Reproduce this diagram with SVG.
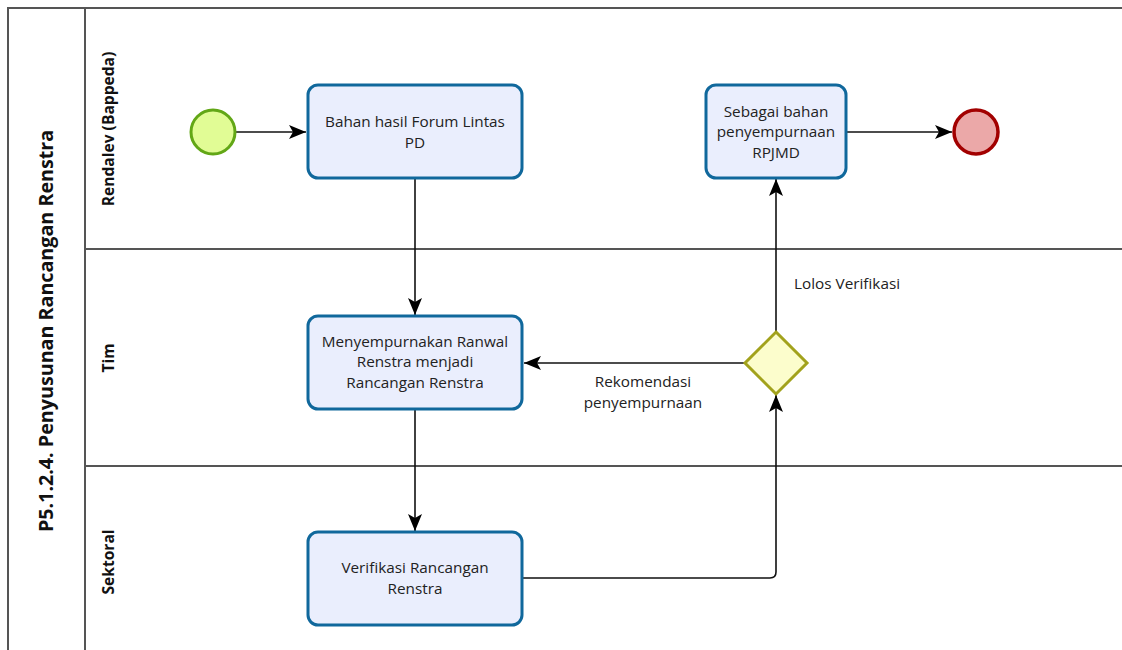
<svg xmlns="http://www.w3.org/2000/svg" width="1122" height="650" viewBox="0 0 1122 650">
<defs>
<style>
.lane{fill:none;stroke:#555;stroke-width:2}
.task{fill:#eaeefd;stroke:#10689c;stroke-width:3}
.t{font-family:"Open Sans","Liberation Sans",sans-serif;font-size:15.3px;fill:#222;text-anchor:middle}
.lbl{font-family:"Open Sans","Liberation Sans",sans-serif;font-size:15.3px;fill:#222}
.hd{font-family:"Open Sans","Liberation Sans",sans-serif;font-size:15.6px;font-weight:bold;fill:#111;text-anchor:middle}
.edge{fill:none;stroke:#111;stroke-width:1.6}
</style>
<marker id="arrB" viewBox="0 0 18 14" refX="17" refY="7" markerWidth="18" markerHeight="14" markerUnits="userSpaceOnUse" orient="auto"><path d="M0,0 L17,7 L0,14 L4,7 z" fill="#000"/></marker>
</defs>
<rect width="1122" height="650" fill="#fff"/>
<g id="pool">
<path class="lane" d="M1122,8 H8 V652"/>
<line class="lane" x1="85" y1="8" x2="85" y2="652"/>
<line class="lane" x1="85" y1="249" x2="1122" y2="249"/>
<line class="lane" x1="85" y1="466" x2="1122" y2="466"/>
<text transform="translate(53,331) rotate(-90)" font-family="'Open Sans','Liberation Sans',sans-serif" font-size="19.7" font-weight="bold" fill="#111" text-anchor="middle">P5.1.2.4. Penyusunan Rancangan Renstra</text>
<text class="hd" transform="translate(114,129) rotate(-90)">Rendalev (Bappeda)</text>
<text class="hd" transform="translate(114,358) rotate(-90)">Tim</text>
<text class="hd" transform="translate(114,562) rotate(-90)">Sektoral</text>
</g>
<g id="connectors">
<line class="edge" x1="235" y1="132" x2="306" y2="132" marker-end="url(#arrB)"/>
<line class="edge" x1="415" y1="178" x2="415" y2="315" marker-end="url(#arrB)"/>
<line class="edge" x1="415" y1="409" x2="415" y2="531" marker-end="url(#arrB)"/>
<path class="edge" d="M522,578 H770 Q776,578 776,572 V395" marker-end="url(#arrB)"/>
<line class="edge" x1="745" y1="363" x2="524" y2="363" marker-end="url(#arrB)"/>
<line class="edge" x1="776" y1="332" x2="776" y2="179" marker-end="url(#arrB)"/>
<line class="edge" x1="846" y1="132" x2="952" y2="132" marker-end="url(#arrB)"/>
<text class="lbl" x="794" y="289">Lolos Verifikasi</text>
<text class="t" x="643" y="387">Rekomendasi</text>
<text class="t" x="643" y="408">penyempurnaan</text>
</g>
<g id="start"><circle cx="213" cy="132" r="22" fill="#e1fc95" stroke="#62a716" stroke-width="3"/></g>
<g id="end"><circle cx="976" cy="132" r="22" fill="#eba8a8" stroke="#a20000" stroke-width="3.5"/></g>
<g id="task1"><rect class="task" x="308" y="85" width="214" height="93" rx="10"/>
<text class="t" x="415" y="127">Bahan hasil Forum Lintas</text><text class="t" x="415" y="148">PD</text></g>
<g id="task2"><rect class="task" x="706" y="85" width="140" height="93" rx="10"/>
<text class="t" x="776" y="117">Sebagai bahan</text><text class="t" x="776" y="137">penyempurnaan</text><text class="t" x="776" y="158">RPJMD</text></g>
<g id="task3"><rect class="task" x="308" y="316" width="214" height="93" rx="10"/>
<text class="t" x="415" y="347">Menyempurnakan Ranwal</text><text class="t" x="415" y="367">Renstra menjadi</text><text class="t" x="415" y="388">Rancangan Renstra</text></g>
<g id="task4"><rect class="task" x="308" y="532" width="214" height="93" rx="10"/>
<text class="t" x="415" y="573">Verifikasi Rancangan</text><text class="t" x="415" y="594">Renstra</text></g>
<g id="gateway"><path d="M776,332 L807,363 L776,394 L745,363 Z" fill="#fcfdcc" stroke="#a2a21c" stroke-width="3"/></g>
</svg>
